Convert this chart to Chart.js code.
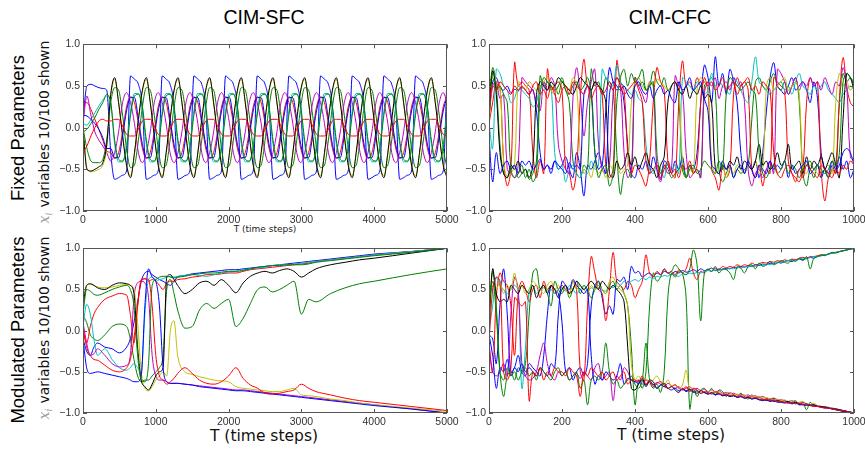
<!DOCTYPE html>
<html>
<head>
<meta charset="utf-8">
<script src="https://cdn.jsdelivr.net/npm/chart.js@4.4.1/dist/chart.umd.min.js"></script>
<style>
  body { margin: 0; background: #fff; }
  #fig { position: relative; width: 865px; height: 449px; overflow: hidden; background: #fff; }
  .panel { position: absolute; }
  .txt { position: absolute; white-space: nowrap; color: #000; transform: translate(-50%, -50%); }
  .rot { transform: translate(-50%, -50%) rotate(-90deg); }
  .title { font-family: 'Liberation Sans', Arial, sans-serif; font-size: 19.5px; }
  .row { font-family: 'Liberation Sans', Arial, sans-serif; font-size: 18.5px; }
  .ylab { font-family: 'DejaVu Sans', sans-serif; font-size: 14px; color: #111; }
  .xi { font-family: 'DejaVu Serif', serif; font-style: italic; color: #9a9a9a; margin-right: 5px; }
  .xi sub { font-size: 9px; }
  .tsmall { font-family: 'DejaVu Sans', sans-serif; font-size: 9px; color: #222; }
  .tbig { font-family: 'DejaVu Sans', sans-serif; font-size: 15.5px; color: #111; }
</style>
</head>
<body>
<div id="fig">
  <div class="txt title" style="left:264px;top:17px">CIM-SFC</div>
  <div class="txt title" style="left:670px;top:17px">CIM-CFC</div>

  <div class="txt rot row" style="left:18px;top:128px">Fixed Parameters</div>
  <div class="txt rot row" style="left:18px;top:330px">Modulated Parameters</div>

  <div class="txt rot ylab" style="left:45px;top:132px"><span class="xi">x<sub>i</sub></span>variables 10/100 shown</div>
  <div class="txt rot ylab" style="left:45px;top:328px"><span class="xi">x<sub>i</sub></span>variables 10/100 shown</div>

  <div class="txt tsmall" style="left:265px;top:229px">T (time steps)</div>
  <div class="txt tbig" style="left:264px;top:436px">T (time steps)</div>
  <div class="txt tbig" style="left:671px;top:435px">T (time steps)</div>

  <canvas id="sfcFix" class="panel" width="429" height="194" style="left:38px;top:35px"></canvas>
  <canvas id="cfcFix" class="panel" width="430" height="194" style="left:444px;top:35px"></canvas>
  <canvas id="sfcMod" class="panel" width="429" height="192" style="left:38px;top:239px"></canvas>
  <canvas id="cfcMod" class="panel" width="430" height="192" style="left:444px;top:239px"></canvas>
</div>

<script>
// ---- colour cycle (b, g, r, c, m, y, k, b, g, r) ----
const lineColors = ['#0000ff', '#008000', '#ff0000', '#00bfbf', '#bf00bf', '#bfbf00', '#000000', '#0000ff', '#008000', '#ff0000'];

// ---- axis ticks ----
const yTicks = [-1, -0.5, 0, 0.5, 1];
const sfcXTicks = [0, 1000, 2000, 3000, 4000, 5000];
const cfcXTicks = [0, 200, 400, 600, 800, 1000];

// ================= CIM-SFC, fixed parameters =================
const sfcFixT = [0,54,109,163,218,272,326,381,435,489,544,598,653,707,761,816,870,924,979,1033,
  1088,1142,1196,1251,1305,1359,1414,1468,1523,1577,1631,1686,1740,1794,1849,1903,1958,2012,2066,2121,
  2175,2229,2284,2338,2393,2447,2501,2556,2610,2664,2719,2773,2828,2882,2936,2991,3045,3099,3154,3208,
  3263,3317,3371,3426,3480,3534,3589,3643,3698,3752,3806,3861,3915,3969,4024,4078,4133,4187,4241,4296,
  4350,4404,4459,4513,4568,4622,4676,4731,4785,4839,4894,4948,5000];

const sfcFixB1 = [.12,.5,.52,.5,.48,.47,.45,-.3,
  -.62,-.6,-.57,-.52,.62,.58,.52,.25, -.62,-.6,-.57,-.52,.62,.58,.52,.25,
  -.62,-.6,-.57,-.52,.62,.58,.52,.25, -.62,-.6,-.57,-.52,.62,.58,.52,.25,
  -.62,-.6,-.57,-.52,.62,.58,.52,.25, -.62,-.6,-.57,-.52,.62,.58,.52,.25,
  -.62,-.6,-.57,-.52,.62,.58,.52,.25, -.62,-.6,-.57,-.52,.62,.58,.52,.25,
  -.62,-.6,-.57,-.52,.62,.58,.52,.25, -.62,-.6,-.57,-.52,.62,.58,.52,.25,
  -.62,-.6,-.57,-.52,.62];
const sfcFixG1 = [0,-.25,-.4,-.42,-.42,-.38,-.15,.3,
  .48,.45,.15,-.25,-.48,-.45,-.15,.25, .48,.45,.15,-.25,-.48,-.45,-.15,.25,
  .48,.45,.15,-.25,-.48,-.45,-.15,.25, .48,.45,.15,-.25,-.48,-.45,-.15,.25,
  .48,.45,.15,-.25,-.48,-.45,-.15,.25, .48,.45,.15,-.25,-.48,-.45,-.15,.25,
  .48,.45,.15,-.25,-.48,-.45,-.15,.25, .48,.45,.15,-.25,-.48,-.45,-.15,.25,
  .48,.45,.15,-.25,-.48,-.45,-.15,.25, .48,.45,.15,-.25,-.48,-.45,-.15,.25,
  .48,.45,.15,-.25,-.48];
const sfcFixR1 = [.3,.3,.22,.1,-.02,-.15,-.28,-.3,
  -.37,-.3,-.05,.25,.37,.3,.05,-.25, -.37,-.3,-.05,.25,.37,.3,.05,-.25,
  -.37,-.3,-.05,.25,.37,.3,.05,-.25, -.37,-.3,-.05,.25,.37,.3,.05,-.25,
  -.37,-.3,-.05,.25,.37,.3,.05,-.25, -.37,-.3,-.05,.25,.37,.3,.05,-.25,
  -.37,-.3,-.05,.25,.37,.3,.05,-.25, -.37,-.3,-.05,.25,.37,.3,.05,-.25,
  -.37,-.3,-.05,.25,.37,.3,.05,-.25, -.37,-.3,-.05,.25,.37,.3,.05,-.25,
  -.37,-.3,-.05,.25,.37];
const sfcFixC = [.05,.03,.1,.18,.26,.33,.38,.3,
  -.2,-.41,-.41,-.2,.2,.41,.41,.2, -.2,-.41,-.41,-.2,.2,.41,.41,.2,
  -.2,-.41,-.41,-.2,.2,.41,.41,.2, -.2,-.41,-.41,-.2,.2,.41,.41,.2,
  -.2,-.41,-.41,-.2,.2,.41,.41,.2, -.2,-.41,-.41,-.2,.2,.41,.41,.2,
  -.2,-.41,-.41,-.2,.2,.41,.41,.2, -.2,-.41,-.41,-.2,.2,.41,.41,.2,
  -.2,-.41,-.41,-.2,.2,.41,.41,.2, -.2,-.41,-.41,-.2,.2,.41,.41,.2,
  -.2,-.41,-.41,-.2,.2];
const sfcFixM = [.05,.38,.15,-.05,-.15,-.22,-.3,-.4,
  -.3,-.05,.3,.42,.3,.05,-.3,-.42, -.3,-.05,.3,.42,.3,.05,-.3,-.42,
  -.3,-.05,.3,.42,.3,.05,-.3,-.42, -.3,-.05,.3,.42,.3,.05,-.3,-.42,
  -.3,-.05,.3,.42,.3,.05,-.3,-.42, -.3,-.05,.3,.42,.3,.05,-.3,-.42,
  -.3,-.05,.3,.42,.3,.05,-.3,-.42, -.3,-.05,.3,.42,.3,.05,-.3,-.42,
  -.3,-.05,.3,.42,.3,.05,-.3,-.42, -.3,-.05,.3,.42,.3,.05,-.3,-.42,
  -.3,-.05,.3,.42,.3];
const sfcFixY = [0,-.48,-.53,-.52,-.5,-.45,-.25,.38,
  .58,.3,-.08,-.44,-.58,-.32,.08,.44, .58,.3,-.08,-.44,-.58,-.32,.08,.44,
  .58,.3,-.08,-.44,-.58,-.32,.08,.44, .58,.3,-.08,-.44,-.58,-.32,.08,.44,
  .58,.3,-.08,-.44,-.58,-.32,.08,.44, .58,.3,-.08,-.44,-.58,-.32,.08,.44,
  .58,.3,-.08,-.44,-.58,-.32,.08,.44, .58,.3,-.08,-.44,-.58,-.32,.08,.44,
  .58,.3,-.08,-.44,-.58,-.32,.08,.44, .58,.3,-.08,-.44,-.58,-.32,.08,.44,
  .58,.3,-.08,-.44,-.58];
const sfcFixK = [0,-.5,-.52,-.5,-.47,-.42,-.2,.4,
  .6,.3,-.1,-.45,-.6,-.3,.1,.45, .6,.3,-.1,-.45,-.6,-.3,.1,.45,
  .6,.3,-.1,-.45,-.6,-.3,.1,.45, .6,.3,-.1,-.45,-.6,-.3,.1,.45,
  .6,.3,-.1,-.45,-.6,-.3,.1,.45, .6,.3,-.1,-.45,-.6,-.3,.1,.45,
  .6,.3,-.1,-.45,-.6,-.3,.1,.45, .6,.3,-.1,-.45,-.6,-.3,.1,.45,
  .6,.3,-.1,-.45,-.6,-.3,.1,.45, .6,.3,-.1,-.45,-.6,-.3,.1,.45,
  .6,.3,-.1,-.45,-.6];
const sfcFixB2 = [.15,.14,.1,.05,-.02,-.12,-.25,-.25,
  -.36,-.36,-.1,.2,.36,.36,.1,-.2, -.36,-.36,-.1,.2,.36,.36,.1,-.2,
  -.36,-.36,-.1,.2,.36,.36,.1,-.2, -.36,-.36,-.1,.2,.36,.36,.1,-.2,
  -.36,-.36,-.1,.2,.36,.36,.1,-.2, -.36,-.36,-.1,.2,.36,.36,.1,-.2,
  -.36,-.36,-.1,.2,.36,.36,.1,-.2, -.36,-.36,-.1,.2,.36,.36,.1,-.2,
  -.36,-.36,-.1,.2,.36,.36,.1,-.2, -.36,-.36,-.1,.2,.36,.36,.1,-.2,
  -.36,-.36,-.1,.2,.36];
const sfcFixG2 = [-.05,-.02,.05,.12,.22,.3,.4,.3,
  -.15,-.38,-.4,-.25,.15,.38,.4,.25, -.15,-.38,-.4,-.25,.15,.38,.4,.25,
  -.15,-.38,-.4,-.25,.15,.38,.4,.25, -.15,-.38,-.4,-.25,.15,.38,.4,.25,
  -.15,-.38,-.4,-.25,.15,.38,.4,.25, -.15,-.38,-.4,-.25,.15,.38,.4,.25,
  -.15,-.38,-.4,-.25,.15,.38,.4,.25, -.15,-.38,-.4,-.25,.15,.38,.4,.25,
  -.15,-.38,-.4,-.25,.15,.38,.4,.25, -.15,-.38,-.4,-.25,.15,.38,.4,.25,
  -.15,-.38,-.4,-.25,.15];
const sfcFixR2 = [-.3,-.22,-.1,0,.08,.1,.08,.08,
  .1,.1,.02,-.08,-.1,-.1,-.02,.08, .1,.1,.02,-.08,-.1,-.1,-.02,.08,
  .1,.1,.02,-.08,-.1,-.1,-.02,.08, .1,.1,.02,-.08,-.1,-.1,-.02,.08,
  .1,.1,.02,-.08,-.1,-.1,-.02,.08, .1,.1,.02,-.08,-.1,-.1,-.02,.08,
  .1,.1,.02,-.08,-.1,-.1,-.02,.08, .1,.1,.02,-.08,-.1,-.1,-.02,.08,
  .1,.1,.02,-.08,-.1,-.1,-.02,.08, .1,.1,.02,-.08,-.1,-.1,-.02,.08,
  .1,.1,.02,-.08,-.1];

// ================= CIM-CFC time grid (both rows) =================
const cfcT = [0,10,20,30,40,50,60,70,80,90,100,110,120,130,140,150,160,170,180,190,
  200,210,220,230,240,250,260,270,280,290,300,310,320,330,340,350,360,370,380,390,
  400,410,420,430,440,450,460,470,480,490,500,510,520,530,540,550,560,570,580,590,
  600,610,620,630,640,650,660,670,680,690,700,710,720,730,740,750,760,770,780,790,
  800,810,820,830,840,850,860,870,880,890,900,910,920,930,940,950,960,970,980,990,1000];

// ================= CIM-CFC, fixed parameters =================
const cfcFixB1 = [
  .15,.55,.6,.48,.45,.5,.42,.46,.44,.48,
  .45,.4,.46,.2,-.3,-.5,-.45,-.55,-.4,-.5,
  -.45,-.35,-.5,-.6,-.3,-.5,-.82,-.45,-.5,-.4,
  -.3,-.45,.2,.72,.55,.45,.5,.3,-.2,-.55,
  -.6,-.45,-.5,-.4,-.55,-.35,-.5,-.62,-.4,-.45,
  -.55,-.4,-.5,-.35,-.6,-.45,-.5,-.3,.3,.75,
  .6,.3,.85,.5,.65,.4,.7,.55,.3,-.3,
  -.55,-.45,-.5,-.4,-.6,-.3,.2,.6,.78,.5,
  .45,.4,.5,.6,.45,.5,.55,.45,.3,.55,
  .35,-.3,-.5,-.6,-.45,-.55,-.35,-.5,-.4,-.6,
  -.5];
const cfcFixG1 = [
  .3,.72,.5,-.2,-.55,-.6,-.5,-.45,-.6,-.55,
  -.5,-.62,-.55,-.4,.62,.5,.55,.45,.5,.4,
  .55,.45,.3,-.4,-.55,-.6,-.45,-.5,.7,.5,
  .55,.4,.6,.5,.45,-.3,-.8,-.55,-.5,-.6,
  .6,.5,.55,.45,.5,.68,.55,.5,.6,.45,
  .5,.55,.35,-.5,-.6,-.45,-.55,-.5,-.6,.5,
  .55,.6,.45,-.5,-.65,-.55,-.45,-.6,-.5,-.55,
  -.5,-.45,.1,.55,.6,.5,.45,.55,.65,.5,
  .45,.55,.4,.5,.6,.3,-.55,-.7,-.5,-.6,
  -.45,-.55,-.5,-.6,-.5,-.45,.3,.65,.55,.6,
  .5];
const cfcFixR1 = [
  .05,.3,.55,.5,-.4,-.7,-.5,.78,.5,.55,
  .5,.45,-.3,-.6,-.4,-.55,.7,.45,.5,.55,
  .45,-.5,-.55,-.75,-.5,.35,.82,.5,.45,.55,
  .5,.4,-.45,-.6,-.5,.8,.55,.45,-.3,-.55,
  -.45,-.5,-.6,-.7,-.4,.3,.72,.55,.45,-.4,
  -.55,-.6,.3,.8,.5,.55,.45,.6,.5,.55,
  .45,-.5,-.6,-.75,-.45,-.6,-.5,.4,.6,.5,
  .55,.45,-.5,-.6,-.45,-.7,-.5,-.55,.6,.55,
  .5,.45,-.4,-.55,-.6,-.65,-.5,.3,.6,.5,
  .55,-.5,-.88,-.6,-.5,-.55,.35,.84,.5,.3,
  .25];
const cfcFixC = [
  .05,-.25,.7,.65,.5,.45,.3,.35,.5,.45,
  .4,.35,.25,.3,.5,.45,.55,.5,-.3,-.5,
  -.45,-.65,-.5,-.45,-.55,-.6,-.5,-.55,-.4,-.5,
  -.45,.7,.6,.55,.5,.75,.55,.5,.45,.4,
  .45,.35,.3,-.2,-.5,-.55,-.45,-.5,-.6,-.4,
  -.5,-.45,-.55,.6,.55,.5,.45,.55,.5,.4,
  .45,.65,.5,.55,.5,.45,.4,.6,.55,.45,
  .35,.3,.55,.85,.55,.5,.45,.4,.45,.5,
  .55,.45,.5,.4,.55,.65,.5,.45,.4,.5,
  .45,.5,.55,.45,.4,.35,.3,.4,.45,.5,
  .45];
const cfcFixM = [
  .1,.5,.55,.35,.4,-.5,-.55,-.6,-.45,.6,
  .55,.5,.45,.3,.2,.55,.45,.6,.5,-.2,
  -.4,-.5,-.55,.35,.72,.4,-.1,.3,.55,.7,
  -.2,-.5,-.55,-.45,.4,.6,.5,-.3,-.6,-.5,
  .6,.5,.4,.3,.55,.5,-.5,-.65,-.45,-.55,
  -.5,.62,.5,.45,-.3,-.6,-.55,-.5,-.6,.4,
  .55,.5,.6,.35,.5,.55,.45,.6,.5,.55,
  .3,-.5,-.7,-.55,-.5,-.6,-.5,-.4,-.55,.7,
  .65,.55,.4,.5,.6,.45,.55,.5,.6,.5,
  .55,.45,.6,.5,.4,.55,.5,.72,.5,-.35,
  -.4];
const cfcFixY = [
  0,.65,.55,.5,-.4,-.6,-.55,-.45,.55,.5,
  .45,.55,.5,.45,.5,.55,.6,.45,.4,.5,
  .55,.5,.45,.6,.5,-.3,-.55,-.5,-.6,-.45,
  -.55,-.5,-.6,-.45,-.5,-.4,-.55,-.5,-.45,.3,
  .55,.6,.5,.45,.55,.5,.58,.55,.5,.45,
  .5,.55,.45,-.4,-.6,-.5,-.55,.45,.6,.55,
  .5,-.4,-.55,-.5,-.45,-.6,-.5,-.55,-.45,-.5,
  -.55,-.45,-.5,-.4,-.55,-.5,.5,.6,.45,.5,
  .55,.6,.45,.5,.55,.4,-.5,-.55,-.45,-.5,
  -.55,-.6,-.5,-.45,-.55,.3,.65,.5,.55,.45,
  .5];
const cfcFixK = [
  .1,.68,.4,-.3,-.55,-.6,-.45,-.5,-.4,-.55,
  -.5,-.6,-.45,.4,.55,.5,.45,.55,.5,.6,
  .55,.5,.45,.4,.5,.6,.55,.5,.45,.55,
  .5,.45,.3,-.55,-.6,-.4,-.5,-.45,-.3,-.45,
  -.35,-.5,-.4,-.3,-.45,-.5,-.6,-.45,-.35,.3,
  .5,.55,.45,.4,.5,.35,.45,.4,.5,.35,
  .4,.3,-.5,-.55,-.45,-.5,-.4,-.45,-.35,-.5,
  -.4,-.45,-.5,-.4,-.2,-.45,-.4,-.5,-.45,-.3,
  -.45,-.4,-.2,-.5,-.45,-.4,-.55,-.35,-.5,-.4,
  -.45,-.35,-.5,-.4,-.3,-.45,-.6,.1,.65,.6,
  .45];
const cfcFixB2 = [
  -.1,-.65,-.3,-.55,-.45,-.4,-.5,-.45,-.55,-.4,
  -.45,-.4,-.5,-.45,-.38,-.5,-.45,-.5,-.4,-.45,
  -.5,-.55,-.42,-.5,-.45,-.5,.4,.5,.45,-.3,
  -.5,-.45,-.55,.4,.55,.5,.45,.5,.4,.35,
  .5,.55,.45,.4,.5,.35,.45,.5,.4,.45,
  .35,.3,.55,.45,.5,.6,.45,.5,.55,.35,
  .2,-.45,-.5,-.55,-.4,-.5,-.45,-.6,-.5,-.45,
  -.55,-.4,-.5,-.6,-.45,-.5,-.55,-.4,-.5,-.45,
  -.5,-.4,-.6,-.45,-.55,-.5,-.45,-.4,-.55,-.5,
  -.45,-.6,-.5,-.55,-.4,-.5,-.45,-.3,-.25,-.3,
  -.45];
const cfcFixG2 = [
  .55,.6,.45,.5,.4,.3,-.5,-.6,-.55,-.45,
  -.6,-.5,-.65,-.55,.4,.6,.55,.5,.45,.5,
  .6,.45,.4,.5,.55,.45,.5,.6,.4,-.3,
  -.6,-.5,-.45,-.7,-.55,.3,.6,.7,.5,.65,
  .55,.6,.7,.45,.5,.55,-.3,-.55,-.45,-.5,
  -.6,-.55,-.5,-.45,-.6,-.5,-.45,-.55,-.5,-.4,
  -.45,-.5,-.55,-.4,-.5,.4,.6,.55,.5,.45,
  .5,.55,.45,.4,-.3,-.55,-.6,-.5,-.45,-.55,
  -.5,-.4,-.55,-.45,-.5,-.6,-.5,-.45,-.4,-.5,
  -.45,-.5,-.55,-.5,-.4,-.45,-.3,.55,.65,.6,
  .55];
const cfcFixR2 = [
  .3,.5,.45,.55,.5,.45,.4,.5,.45,.5,
  .45,.4,.5,.55,.4,.45,.35,.5,.4,.3,
  .45,.5,.4,.55,.5,.45,.4,.5,.35,.45,
  .5,.4,.45,.55,.45,.6,.5,.4,.45,.5,
  .55,.45,.3,-.4,-.55,-.5,-.45,-.6,-.5,-.4,
  -.55,-.5,-.6,-.45,-.5,-.4,-.55,-.45,.3,.6,
  .5,.55,.45,.5,.6,.45,.5,.55,.4,.5,
  .55,.6,.45,.5,.4,.55,.5,.45,-.3,-.55,
  -.6,-.5,-.45,-.55,-.65,-.5,-.6,-.45,-.5,-.55,
  -.6,-.45,-.5,-.55,-.6,-.5,-.55,-.45,-.5,-.4,
  -.45];

// ================= CIM-SFC, modulated parameters =================
const sfcModT = [0,50,100,150,200, 300,400,500,600,
  650,700,750,800,850,900,950,1000, 1050,1100,1150,1200,1250,1300,
  1400,1500,1600,1700,1800,1900,2000,
  2100,2200,2300,2400,2500,2600,2700,2800,2900,3000,3100,3200,
  3400,3600,3800,4000, 4500,5000];

const sfcModB1 = [-.1,-.25,-.3,-.2,-.15, -.2,-.22,-.27,-.2,
  -.1,.1,.35,.6,.7,.72,.68,.65, .62,.6,.57,.55,.6,.65,
  .67,.69,.7,.71,.72,.73,.74,
  .74,.75,.76,.77,.78,.79,.8,.81,.82,.83,.84,.85,
  .87,.89,.91,.93, .96,1];
const sfcModG1 = [.18,.1,-.05,-.1,-.12, -.05,.05,.08,.05,
  -.1,-.35,-.55,-.62,-.6,-.6,-.55,-.5, -.45,-.3,.5,.62,.45,.25,
  .03,.05,.25,.33,.27,.33,.38,
  .05,.15,.33,.5,.53,.47,.5,.55,.6,.2,.38,.35,
  .45,.52,.57,.6, .68,.75];
const sfcModR1 = [0,-.15,.05,.2,.28, .38,.42,.45,.43,
  .2,-.15,.3,.62,.63,.6,.62,.6, .55,.5,.58,.6,.6,.62,
  .63,.65,.66,.68,.68,.69,.7,
  .7,.72,.74,.75,.76,.77,.78,.79,.8,.81,.82,.84,
  .86,.88,.9,.92, .96,1];
const sfcModC = [.05,.32,.2,-.1,-.3, -.22,-.35,-.45,-.48,
  -.45,-.4,-.45,-.5,.2,.62,.65,.6, .62,.63,.65,.66,.65,.66,
  .67,.68,.67,.66,.68,.7,.71,
  .72,.74,.75,.76,.77,.79,.8,.8,.81,.82,.83,.84,
  .86,.88,.9,.92, .96,1];
const sfcModM = [.1,-.15,-.3,-.28,-.22, -.3,-.4,-.44,-.42,
  -.3,.4,.58,.6,.58,.4,-.3,-.55, -.6,-.6,-.62,-.64,-.64,-.64,
  -.65,-.66,-.67,-.68,-.69,-.7,-.71,
  -.72,-.72,-.73,-.74,-.75,-.76,-.77,-.78,-.79,-.8,-.81,-.82,
  -.84,-.86,-.88,-.9, -.95,-1];
const sfcModY = [.3,.55,.56,.55,.53, .52,.53,.55,.56,
  .55,.5,.1,-.5,-.7,-.73,-.68,-.6, -.55,-.5,-.55,0,.12,-.3,
  -.5,-.53,-.56,-.58,-.6,-.61,-.62,
  -.68,-.7,-.71,-.72,-.73,-.74,-.74,-.72,-.7,-.78,-.79,-.8,
  -.83,-.85,-.88,-.9, -.94,-.98];
const sfcModK = [.3,.55,.57,.55,.52, .5,.55,.58,.57,
  .55,.45,-.2,-.6,-.68,-.72,-.65,-.55, -.5,-.45,.65,.68,.62,.55,
  .45,.5,.58,.6,.55,.62,.55,
  .46,.58,.66,.7,.72,.7,.73,.75,.72,.65,.7,.75,
  .8,.83,.86,.88, .94,1];
const sfcModB2 = [-.1,-.45,-.52,-.51,-.5, -.52,-.54,-.56,-.58,
  -.6,-.62,-.62,-.55,.3,.75,.65,.6, .3,-.45,-.62,-.64,-.64,-.64,
  -.65,-.66,-.68,-.69,-.7,-.71,-.72,
  -.73,-.73,-.74,-.75,-.76,-.77,-.78,-.79,-.8,-.81,-.82,-.83,
  -.85,-.87,-.89,-.91, -.95,-1];
const sfcModG2 = [.2,.5,.48,.44,.43, .46,.5,.53,.55,
  .5,.3,-.3,-.6,-.62,-.4,.55,.62, .65,.66,.66,.65,.64,.65,
  .66,.68,.69,.7,.7,.71,.72,
  .72,.73,.75,.77,.78,.79,.79,.8,.8,.8,.81,.83,
  .85,.87,.89,.91, .95,1];
const sfcModR2 = [.05,-.2,-.3,-.35,-.36, -.42,-.48,-.5,-.45,
  -.35,-.1,.3,.6,.63,.62,.3,-.3, -.55,-.6,-.65,-.62,-.58,-.52,
  -.45,-.52,-.6,-.64,-.65,-.62,-.55,
  -.45,-.58,-.66,-.7,-.76,-.77,-.76,-.74,-.72,-.65,-.7,-.74,
  -.78,-.82,-.85,-.87, -.92,-.97];

// ================= CIM-CFC, modulated parameters =================
const cfcModB1 = [
  -.05,-.1,-.4,.3,.75,.2,-.5,-.45,-.3,-.5,
  -.55,-.4,-.45,-.5,-.55,-.3,.2,.55,.5,.45,
  .1,-.5,-.45,-.6,-.5,-.45,-.55,-.4,.3,.55,
  .6,.4,.2,.3,.2,.62,.6,.65,.5,.78,
  .7,.72,.65,.68,.7,.66,.7,.68,.72,.7,
  .68,.72,.7,.73,.71,.72,.74,.72,.75,.73,
  .74,.76,.73,.75,.74,.76,.75,.77,.76,.78,
  .77,.79,.78,.8,.79,.81,.8,.82,.81,.83,
  .82,.84,.85,.84,.86,.87,.86,.88,.89,.88,
  .9,.91,.92,.93,.94,.95,.96,.97,.98,.99,
  1];
const cfcModG1 = [
  .05,.72,.3,-.5,-.8,-.55,-.5,-.6,-.45,-.5,
  -.4,.2,.7,.75,.5,.55,.45,.3,.6,.5,
  .45,.55,.4,.5,.6,.45,.55,.5,.4,.5,
  .6,.5,.45,.55,.6,.5,.55,.45,.3,-.2,
  -.9,-.6,-.7,-.5,.3,.7,.6,.65,.75,.7,
  .72,.8,.75,.7,.4,-.95,-.7,-.8,-.72,-.7,
  -.75,-.7,-.78,-.72,-.74,-.8,-.75,-.78,-.8,-.76,
  -.8,-.83,-.78,-.82,-.8,-.85,-.83,-.86,-.82,-.85,
  -.86,-.85,-.88,-.87,-.85,-.9,-.88,-.96,-.87,-.91,
  -.92,-.93,-.92,-.94,-.95,-.96,-.97,-.98,-.99,-.99,
  -1];
const cfcModR1 = [
  -.15,-.5,.4,.7,.6,.55,.3,-.3,.45,.6,
  .5,.35,.5,.55,.4,.6,.5,.55,.45,.5,
  .55,.5,.45,.6,.5,-.5,-.6,.3,.9,.7,
  .5,.45,.12,.5,.95,.6,.55,.5,.6,.55,
  .4,.5,.6,.92,.7,.65,.72,.68,.75,.7,
  .72,.68,.74,.7,.75,.88,.7,.62,.72,.7,
  .74,.72,.76,.74,.78,.76,.78,.77,.8,.78,
  .8,.79,.82,.8,.81,.83,.82,.84,.83,.85,
  .84,.86,.85,.87,.86,.88,.89,.88,.9,.9,
  .91,.92,.92,.93,.95,.95,.96,.97,.98,.99,
  1];
const cfcModC = [
  0,.3,.65,.55,.5,.45,.5,.55,.48,-.7,
  -.2,.5,.55,.45,.5,.52,.48,.5,.45,.5,
  .52,.48,.55,.5,.45,.5,.55,.48,.52,.5,
  .55,.5,.48,.55,.52,.58,.55,.6,.58,.6,
  .62,.6,.64,.62,.65,.63,.66,.65,.67,.66,
  .68,.67,.66,.69,.68,.7,.69,.71,.7,.72,
  .73,.72,.74,.73,.75,.74,.76,.75,.77,.76,
  .78,.77,.79,.78,.8,.79,.81,.8,.82,.83,
  .83,.84,.85,.86,.85,.87,.88,.87,.89,.9,
  .9,.91,.92,.93,.94,.95,.96,.97,.98,.99,
  1];
const cfcModM = [
  -.2,-.5,-.55,-.5,-.4,-.55,.2,.65,.5,-.4,
  -.55,-.6,-.58,-.5,-.3,-.15,-.4,-.55,-.6,-.5,
  -.55,-.5,-.6,-.55,-.52,-.58,-.5,-.55,-.6,-.45,
  -.4,-.6,-.55,-.5,-.85,-.55,-.6,-.45,-.5,-.6,
  -.62,-.6,-.65,-.6,-.62,-.66,-.63,-.65,-.68,-.64,
  -.67,-.7,-.68,-.72,-.7,-.68,-.72,-.7,-.73,-.71,
  -.74,-.72,-.75,-.73,-.76,-.75,-.77,-.76,-.78,-.77,
  -.79,-.78,-.8,-.79,-.81,-.8,-.82,-.83,-.82,-.84,
  -.84,-.85,-.86,-.85,-.87,-.88,-.87,-.89,-.9,-.9,
  -.91,-.92,-.93,-.93,-.94,-.95,-.96,-.97,-.98,-.99,
  -1];
const cfcModY = [
  .2,.55,.5,.6,.45,.55,.5,.7,.5,.55,
  .45,.5,.6,.55,.5,.45,.55,.6,.5,.55,
  .5,.55,.45,.6,.5,.55,.5,.45,.55,.5,
  .55,.5,.45,.6,.65,.55,.5,.45,.3,-.4,
  -.6,-.55,-.62,-.58,-.65,-.6,-.55,-.62,-.66,-.6,
  -.68,-.65,-.7,-.66,-.48,-.72,-.7,-.74,-.72,-.76,
  -.74,-.72,-.76,-.74,-.78,-.76,-.75,-.78,-.77,-.79,
  -.78,-.8,-.79,-.81,-.8,-.82,-.81,-.83,-.84,-.83,
  -.85,-.84,-.86,-.85,-.88,-.87,-.86,-.89,-.9,-.88,
  -.91,-.92,-.93,-.94,-.94,-.95,-.96,-.97,-.98,-.99,
  -1];
const cfcModK = [
  .1,.75,.45,.35,.38,.35,.55,.5,.45,.55,
  .5,.45,.55,.4,.5,.55,.45,.55,.5,.4,
  .5,.55,.45,.5,.6,.55,.5,.55,.6,.55,
  .5,.6,.55,.5,.55,.5,.45,.35,-.2,-.7,
  -.72,-.65,-.58,-.68,-.6,-.62,-.7,-.66,-.64,-.7,
  -.68,-.72,-.75,-.7,-.73,-.71,-.74,-.76,-.73,-.75,
  -.77,-.75,-.78,-.76,-.79,-.78,-.8,-.79,-.81,-.8,
  -.82,-.81,-.83,-.82,-.84,-.83,-.85,-.84,-.86,-.85,
  -.86,-.87,-.86,-.88,-.87,-.89,-.9,-.89,-.91,-.9,
  -.92,-.92,-.93,-.94,-.95,-.95,-.96,-.97,-.98,-.99,
  -1];
const cfcModB2 = [
  -.05,-.3,-.7,-.45,-.5,-.35,-.55,-.45,-.5,-.4,
  -.5,-.45,-.5,-.55,-.45,-.5,-.55,-.4,-.45,.2,
  .6,.55,.5,.62,.55,.5,.45,.5,-.3,-.65,
  -.55,-.6,-.5,-.55,-.6,-.55,-.4,-.65,-.58,-.6,
  -.62,-.64,-.6,-.66,-.62,-.65,-.7,-.66,-.68,-.7,
  -.72,-.7,-.73,-.71,-.74,-.72,-.75,-.73,-.76,-.75,
  -.77,-.76,-.78,-.77,-.79,-.78,-.8,-.79,-.81,-.8,
  -.82,-.81,-.83,-.82,-.84,-.85,-.84,-.86,-.85,-.87,
  -.87,-.88,-.87,-.89,-.88,-.9,-.9,-.91,-.9,-.92,
  -.92,-.93,-.94,-.94,-.95,-.96,-.97,-.98,-.98,-.99,
  -1];
const cfcModG2 = [
  .3,.6,.2,-.5,-.6,-.45,-.55,-.5,-.6,-.5,
  -.45,-.55,-.5,-.6,-.45,-.5,-.55,-.6,-.5,-.45,
  -.55,-.5,-.6,-.55,-.5,-.7,-.6,-.9,-.6,-.55,
  -.6,-.5,-.15,-.5,-.65,-.6,-.7,-.65,-.6,-.55,
  -.65,-.7,-.6,-.15,-.6,-.7,-.65,-.75,-.5,.4,
  .7,.65,.72,.7,.68,.75,.98,.8,.12,.7,
  .75,.72,.78,.7,.75,.74,.7,.62,.78,.76,
  .7,.78,.8,.75,.82,.78,.8,.84,.8,.82,
  .85,.83,.82,.86,.84,.88,.85,.9,.75,.88,
  .9,.92,.91,.93,.95,.94,.96,.97,.98,.99,
  1];
const cfcModR2 = [
  -.15,.5,.65,.6,-.5,-.6,-.45,.4,.35,.3,
  .35,-.85,-.5,-.55,-.45,-.6,-.5,-.55,-.45,-.5,
  -.5,-.55,-.45,-.5,-.55,-.8,-.5,-.55,-.45,-.5,
  -.55,-.5,-.6,-.55,-.5,-.6,-.55,-.5,-.65,-.6,
  -.6,-.62,-.55,-.65,-.6,-.68,-.64,-.62,-.66,-.7,
  -.68,-.66,-.7,-.72,-.68,-.74,-.7,-.72,-.76,-.74,
  -.75,-.77,-.74,-.76,-.78,-.77,-.79,-.78,-.8,-.79,
  -.81,-.8,-.82,-.81,-.83,-.84,-.83,-.85,-.84,-.86,
  -.86,-.87,-.88,-.87,-.89,-.88,-.9,-.89,-.91,-.92,
  -.92,-.93,-.94,-.94,-.95,-.96,-.97,-.97,-.98,-.99,
  -1];

// ---- shared styling ----
const tickFont = { family: "'Liberation Sans', Arial, sans-serif", size: 10.5 };
const tickColor = '#333';
const frameColor = '#555';

// axes frame with inward tick marks on all four sides
const framePlugin = {
  id: 'frame',
  afterDatasetsDraw(chart) {
    const { ctx, chartArea: a, scales } = chart;
    const xs = scales.x, ys = scales.y;
    ctx.save();
    ctx.strokeStyle = frameColor;
    ctx.lineWidth = 1;
    ctx.beginPath();
    xs.ticks.forEach(t => {
      const px = Math.round(xs.getPixelForValue(t.value)) + 0.5;
      ctx.moveTo(px, a.top); ctx.lineTo(px, a.top + 4);
      ctx.moveTo(px, a.bottom); ctx.lineTo(px, a.bottom - 4);
    });
    ys.ticks.forEach(t => {
      const py = Math.round(ys.getPixelForValue(t.value)) + 0.5;
      ctx.moveTo(a.left, py); ctx.lineTo(a.left + 4, py);
      ctx.moveTo(a.right, py); ctx.lineTo(a.right - 4, py);
    });
    ctx.stroke();
    ctx.strokeRect(Math.round(a.left) + 0.5, Math.round(a.top) + 0.5,
      Math.round(a.right - a.left) - 1, Math.round(a.bottom - a.top) - 1);
    ctx.restore();
  }
};

// smooth: true -> monotone cubic (slow smooth runs); false -> bezier tension (fast wiggles)
function drawPanel(canvasId, times, series, xTicks, smooth) {
  const datasets = series.map((vals, i) => ({
    data: vals.map((v, j) => ({ x: times[j], y: v })),
    borderColor: lineColors[i],
    borderWidth: 1,
    pointRadius: 0,
    fill: false,
    cubicInterpolationMode: smooth ? 'monotone' : 'default',
    tension: smooth ? 0 : 0.35,
    order: series.length - i   // later series on top
  }));

  new Chart(document.getElementById(canvasId), {
    type: 'line',
    data: { datasets },
    options: {
      responsive: false,
      animation: false,
      events: [],
      layout: { padding: { top: 8, right: 20, left: 0, bottom: 0 } },
      plugins: { legend: { display: false }, tooltip: { enabled: false } },
      scales: {
        x: {
          type: 'linear',
          min: xTicks[0],
          max: xTicks[xTicks.length - 1],
          afterBuildTicks: s => { s.ticks = xTicks.map(v => ({ value: v })); },
          ticks: { color: tickColor, font: tickFont, padding: 3, maxRotation: 0, autoSkip: false,
                   callback: v => String(v) },
          grid: { display: false, drawTicks: false },
          border: { display: false },
          afterFit: s => { s.height = 18; }
        },
        y: {
          min: -1,
          max: 1,
          afterBuildTicks: s => { s.ticks = yTicks.map(v => ({ value: v })); },
          ticks: { color: tickColor, font: tickFont, padding: 3,
                   callback: v => v.toFixed(1).replace('-', '\u2212') },
          grid: { display: false, drawTicks: false },
          border: { display: false },
          afterFit: s => { s.width = 45; }
        }
      }
    },
    plugins: [framePlugin]
  });
}

drawPanel('sfcFix', sfcFixT,
  [sfcFixB1, sfcFixG1, sfcFixR1, sfcFixC, sfcFixM, sfcFixY, sfcFixK, sfcFixB2, sfcFixG2, sfcFixR2], sfcXTicks, true);
drawPanel('cfcFix', cfcT,
  [cfcFixB1, cfcFixG1, cfcFixR1, cfcFixC, cfcFixM, cfcFixY, cfcFixK, cfcFixB2, cfcFixG2, cfcFixR2], cfcXTicks, false);
drawPanel('sfcMod', sfcModT,
  [sfcModB1, sfcModG1, sfcModR1, sfcModC, sfcModM, sfcModY, sfcModK, sfcModB2, sfcModG2, sfcModR2], sfcXTicks, true);
drawPanel('cfcMod', cfcT,
  [cfcModB1, cfcModG1, cfcModR1, cfcModC, cfcModM, cfcModY, cfcModK, cfcModB2, cfcModG2, cfcModR2], cfcXTicks, false);
</script>
</body>
</html>
